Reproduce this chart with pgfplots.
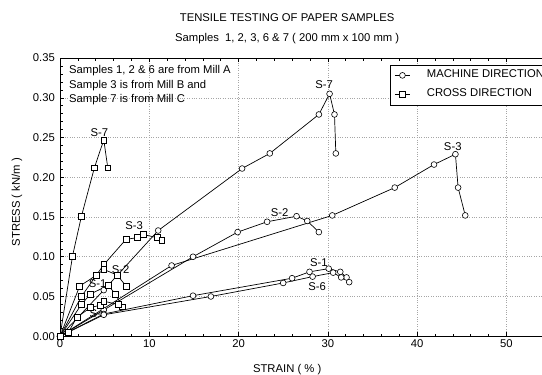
\documentclass[border=0pt]{standalone}
\usepackage{fontspec}
\setmainfont{Liberation Sans}
\usepackage{pgfplots}
\pgfplotsset{compat=1.18}
\begin{document}
\begin{tikzpicture}[font=\fontsize{11.3}{13.5}\selectfont]
\begin{axis}[
  name=ax,
  scale only axis,
  width=499.5bp, height=278bp,
  xmin=0, xmax=56, ymin=0, ymax=0.35,
  xtick={0,10,20,30,40,50},
  ytick={0,0.05,0.10,0.15,0.20,0.25,0.30,0.35},
  minor x tick num=4, minor y tick num=4,
  tick align=inside,
  major tick length=4bp, minor tick length=2.5bp,
  tick style={black, line width=0.5bp},
  axis line style={black, line width=0.7bp},
  grid=major,
  major grid style={gray!70, dotted, line width=0.5bp},
  /pgf/number format/assume math mode=true,
  yticklabel style={/pgf/number format/fixed, /pgf/number format/fixed zerofill, /pgf/number format/precision=2, inner sep=2bp, xshift=-3bp},
  xticklabel style={inner sep=2bp, yshift=-1bp},
  xlabel={STRAIN ( \% )},
  ylabel={STRESS ( kN/m )},
  every axis x label/.style={at={(axis description cs:0.4545,0)}, anchor=north, inner sep=0pt, yshift=-28bp},
  every axis y label/.style={at={(axis description cs:-0.0861,0.482)}, rotate=90, anchor=center, inner sep=0pt},
  title={TENSILE TESTING OF PAPER SAMPLES\\Samples\ \ 1, 2, 3, 6 \& 7 ( 200 mm x 100 mm )},
  title style={at={(axis description cs:0.4545,1)}, anchor=south, align=center, inner sep=0pt, yshift=8bp, font=\fontsize{11.3}{20}\selectfont},
  legend style={at={(axis cs:37,0.3418)}, anchor=north west, draw=black, line width=0.6bp,
     inner xsep=4bp, inner ysep=1bp, row sep=0bp,
     nodes={inner sep=3bp, text height=9bp, text depth=4bp, anchor=west},
     font=\fontsize{11.3}{13.5}\selectfont},
  legend cell align=left,
  legend image code/.code={\draw[black, line width=0.7bp] (0bp,0bp) -- (15bp,0bp);
     \draw[#1, only marks] plot coordinates {(7.5bp,0bp)};
     \path[draw=none, fill=none] (0bp,0bp) (29bp,0bp);},
  md/.style={black, line width=0.7bp, mark=*, mark size=2.9bp, mark options={fill=white, draw=black, line width=0.6bp, solid}},
  cd/.style={black, line width=0.7bp, mark=square*, mark size=2.9bp, mark options={fill=white, draw=black, line width=0.6bp, solid}},
]
% ---------- MACHINE DIRECTION ----------
% S-7
\addplot[md] coordinates {(0,0) (4.9,0.058) (11.0,0.133) (20.4,0.211) (23.5,0.230) (29.0,0.279) (30.2,0.305) (30.75,0.279) (30.9,0.230)};
\addlegendentry{MACHINE DIRECTION}
% S-3
\addplot[md, forget plot] coordinates {(0,0) (12.5,0.089) (30.5,0.152) (37.5,0.187) (41.9,0.216) (44.3,0.229) (44.6,0.187) (45.4,0.152)};
% S-2
\addplot[md, forget plot] coordinates {(0,0) (4.9,0.033) (14.9,0.100) (19.9,0.131) (23.2,0.144) (26.5,0.151) (27.7,0.145) (29.0,0.131)};
% S-1
\addplot[md, forget plot] coordinates {(0,0) (4.9,0.028) (14.9,0.051) (26.0,0.073) (27.95,0.081) (30.1,0.085) (31.4,0.081) (32.1,0.074) (32.4,0.068)};
% S-6
\addplot[md, forget plot] coordinates {(0,0) (4.9,0.027) (16.9,0.050) (25.0,0.067) (28.3,0.075) (30.6,0.080) (31.5,0.074)};
% ---------- CROSS DIRECTION ----------
% S-7
\addplot[cd] coordinates {(0,0) (1.4,0.101) (2.4,0.151) (3.85,0.212) (4.9,0.247) (5.35,0.212)};
\addlegendentry{CROSS DIRECTION}
% S-3
\addplot[cd, forget plot] coordinates {(0,0) (2.4,0.050) (4.9,0.090) (7.4,0.122) (8.7,0.124) (9.3,0.128) (10.9,0.124) (11.4,0.121)};
% S-2
\addplot[cd, forget plot] coordinates {(0,0) (2.2,0.063) (4.1,0.077) (4.9,0.084) (6.4,0.077) (7.4,0.063)};
% S-1
\addplot[cd, forget plot] coordinates {(0,0) (2.4,0.040) (3.4,0.053) (5.4,0.064) (6.2,0.053) (7.0,0.037)};
% S-6
\addplot[cd, forget plot] coordinates {(0,0) (0.93,0.005) (1.9,0.024) (3.4,0.036) (4.5,0.039) (4.9,0.044) (6.5,0.040)};
% sample labels
\node at (axis cs:29.6,0.317) {S-7};
\node at (axis cs:44.0,0.239) {S-3};
\node at (axis cs:24.6,0.156) {S-2};
\node at (axis cs:29.0,0.092) {S-1};
\node at (axis cs:28.8,0.063) {S-6};
\node at (axis cs:4.4,0.256) {S-7};
\node at (axis cs:8.3,0.139) {S-3};
\node at (axis cs:6.8,0.084) {S-2};
\node at (axis cs:4.2,0.066) {S-1};
\node at (axis cs:4.3,0.028) {S-6};
\node[anchor=north west, align=left, inner sep=0pt, font=\fontsize{11.3}{14.5}\selectfont] at (axis cs:1.0,0.3407) {Samples 1, 2 \& 6 are from Mill A\\Sample 3 is from Mill B and\\Sample 7 is from Mill C};
\coordinate (LL) at (axis cs:0,0);
\coordinate (UR) at (axis cs:54,0.35);
\end{axis}
\pgfresetboundingbox
\path[use as bounding box] ([xshift=-60bp,yshift=-38bp]LL) rectangle ([yshift=58bp]UR);
\end{tikzpicture}
\end{document}
